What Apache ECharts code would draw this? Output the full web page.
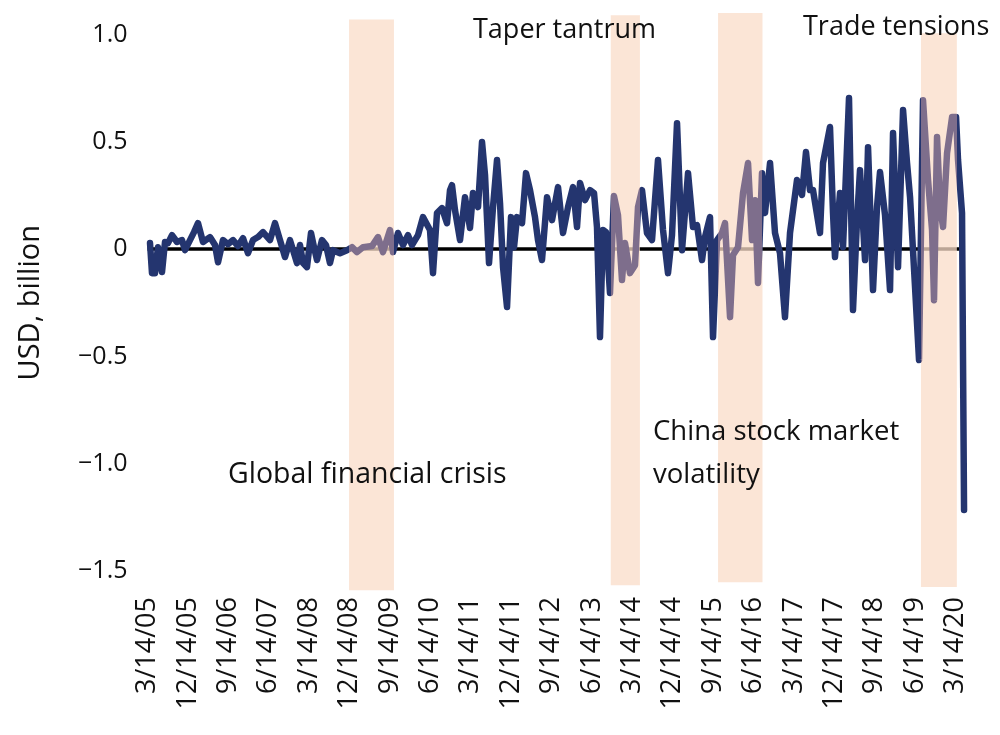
<!DOCTYPE html>
<html>
<head>
<meta charset="utf-8">
<script src="https://cdn.jsdelivr.net/npm/echarts@6/dist/echarts.min.js"></script>
<style>
  html, body { margin: 0; padding: 0; background: #fff; }
  #main { width: 1000px; height: 735px; }
</style>
</head>
<body>
<div id="main"></div>
<script>
// x = months since 3/14/05
const months = [
  0.56, 1.0, 1.67, 2.34, 3.23, 3.9, 4.57, 5.46, 6.57, 7.69, 8.35, 9.47, 10.36, 11.25, 12.36, 13.92,
  15.04, 15.71, 16.82, 17.93, 19.05, 20.16, 21.27, 22.39, 23.5, 24.61, 25.73, 27.29, 28.4, 29.52,
  30.63, 31.74, 33.3, 33.97, 34.64, 35.53, 36.42, 37.09, 37.76, 38.87, 39.76, 40.65, 41.32, 42.88,
  44.44, 45.55, 46.67, 48.0, 50.01, 51.34, 52.46, 54.02, 54.69, 55.8, 56.92, 58.03, 58.92, 60.26,
  61.37, 62.93, 63.6, 64.49, 65.6, 66.72, 67.39, 67.83, 68.5, 69.62, 70.73, 71.84, 72.51, 73.63,
  74.52, 75.19, 76.08, 76.97, 77.86, 78.53, 79.2, 80.09, 80.98, 81.65, 82.32, 83.43, 84.32, 85.21,
  86.32, 86.99, 87.88, 89.0, 90.11, 91.45, 92.56, 93.68, 94.79, 95.68, 96.35, 97.46, 98.58, 99.47,
  100.13, 100.8, 101.47, 102.14, 103.03, 103.92, 104.81, 105.7, 106.37, 107.48, 108.6, 109.27,
  110.16, 111.27, 112.39, 113.72, 114.84, 115.95, 116.84, 117.96, 119.07, 120.41, 121.52, 122.41,
  123.53, 124.19, 125.31, 125.98, 126.87, 127.98, 128.65, 129.77, 130.43, 131.55, 132.66, 133.78,
  134.67, 135.34, 136.0, 136.89, 137.56, 138.68, 139.79, 140.9, 142.01, 143.13, 144.69, 145.8,
  146.69, 147.58, 148.25, 149.81, 150.48, 152.04, 152.71, 153.15, 154.27, 154.94, 156.27, 157.16,
  158.06, 158.72, 159.84, 160.51, 161.62, 162.51, 163.18, 164.3, 165.41, 166.08, 167.19, 168.31,
  169.2, 169.87, 170.98, 171.87, 172.76, 173.88, 174.77, 175.21, 175.88, 176.55, 177.22, 178.11,
  179.23, 180.12, 180.56, 181.45, 181.9
];
const flows = [
  0.028, -0.112, -0.112, 0.009, -0.107, 0.033, 0.028, 0.065, 0.033, 0.042, -0.005, 0.042, 0.079, 0.121, 0.033, 0.056,
  0.019, -0.061, 0.042, 0.023, 0.042, 0.014, 0.051, -0.019, 0.042, 0.056, 0.079, 0.042, 0.121, 0.042,
  -0.037, 0.042, -0.065, 0.019, -0.065, -0.084, 0.075, 0.009, -0.051, 0.042, 0.019, -0.065, -0.005, -0.019,
  -0.005, 0.009, -0.014, 0.009, 0.014, 0.056, -0.014, 0.089, -0.014, 0.075, 0.019, 0.065, 0.019, 0.065,
  0.149, 0.089, -0.112, 0.168, 0.191, 0.121, 0.275, 0.298, 0.182, 0.042, 0.242, 0.098, 0.261, 0.196,
  0.499, 0.345, -0.065, 0.196, 0.415, 0.214, -0.084, -0.27, 0.149, 0.009, 0.149, 0.121, 0.354, 0.275,
  0.149, 0.042, -0.051, 0.242, 0.135, 0.289, 0.075, 0.196, 0.289, 0.103, 0.308, 0.228, 0.275, 0.261,
  0.103, -0.41, 0.089, 0.079, -0.205, 0.247, 0.158, -0.144, 0.028, -0.112, -0.075, 0.196,
  0.275, 0.075, 0.042, 0.415, 0.089, -0.112, 0.065, 0.587, -0.005, 0.354, 0.103, 0.112,
  -0.051, 0.056, 0.149, -0.41, 0.042, 0.075, 0.121, -0.317, -0.028, 0.009, 0.261, 0.401,
  0.042, 0.228, -0.158, 0.354, 0.168, 0.401, 0.075, -0.019, -0.317, 0.075, 0.322, 0.252,
  0.452, 0.275, 0.275, 0.075, 0.401, 0.569, 0.168, -0.037, 0.261, 0.009, 0.704, -0.284,
  0.135, 0.368, -0.051, 0.475, -0.191, 0.196, 0.359, 0.158, -0.191, 0.541, -0.084, 0.648,
  0.401, 0.242, -0.177, -0.517, 0.694, 0.322, 0.089, -0.238, 0.522, 0.196, 0.103, 0.447,
  0.615, 0.615, 0.415, 0.168, -1.216
];

// shaded episodes: start month, end month, top, bottom
const episodes = [
  [44.9, 54.9, 1.07, -1.59],
  [103.2, 109.7, 1.09, -1.566],
  [127.1, 137.0, 1.1, -1.552],
  [172.3, 180.3, 1.006, -1.575]
];

const xTickLabels = [
  '3/14/05', '12/14/05', '9/14/06', '6/14/07', '3/14/08', '12/14/08', '9/14/09',
  '6/14/10', '3/14/11', '12/14/11', '9/14/12', '6/14/13', '3/14/14', '12/14/14',
  '9/14/15', '6/14/16', '3/14/17', '12/14/17', '9/14/18', '6/14/19', '3/14/20'
];
const yTickLabels = ['\u22121.5', '\u22121.0', '\u22120.5', '0', '0.5', '1.0'];

const navy = '#24356f';
const mauve = '#7e6e8c';
const font = 'Open Sans';
const ink = '#111';

const chartDom = document.getElementById('main');
const myChart = echarts.init(chartDom);

const pieces = [];
let prev = -Infinity;
episodes.forEach((e) => {
  pieces.push({ gt: prev, lt: e[0], color: navy });
  pieces.push({ gte: e[0], lte: e[1], color: mauve });
  prev = e[1];
});
pieces.push({ gt: prev, lt: Infinity, color: navy });

const note = (text, left, top, size) => ({
  type: 'text',
  left: left,
  top: top,
  z: 50,
  style: { text: text, font: size + 'px "Open Sans"', lineHeight: 43, fill: ink }
});

const option = {
  animation: false,
  backgroundColor: '#fff',
  grid: { left: 147.5, right: 35.5, top: 34.5, bottom: 164 },
  xAxis: {
    type: 'value',
    min: 0,
    max: 182,
    interval: 9,
    axisLine: { show: false },
    axisTick: { show: false },
    splitLine: { show: false },
    axisLabel: {
      rotate: 90,
      margin: 26,
      fontFamily: font,
      fontSize: 27,
      color: ink,
      formatter: (v) => (v % 9 === 0 ? xTickLabels[v / 9] : '')
    }
  },
  yAxis: {
    type: 'value',
    min: -1.5,
    max: 1.0,
    interval: 0.5,
    name: 'USD, billion',
    nameLocation: 'middle',
    nameGap: 102,
    nameTextStyle: { fontFamily: font, fontSize: 29, color: ink },
    axisLine: { show: false },
    axisTick: { show: false },
    splitLine: {
      show: true,
      lineStyle: {
        width: 3.5,
        color: ['rgba(0,0,0,0)', 'rgba(0,0,0,0)', 'rgba(0,0,0,0)', '#000', 'rgba(0,0,0,0)', 'rgba(0,0,0,0)']
      }
    },
    axisLabel: {
      margin: 20,
      fontFamily: font,
      fontSize: 25,
      color: ink,
      formatter: (v) => yTickLabels[Math.round((v + 1.5) / 0.5)]
    }
  },
  visualMap: {
    show: false,
    seriesIndex: 1,
    dimension: 0,
    pieces: pieces
  },
  graphic: [
    note('Taper tantrum', 473, 9, 27),
    note('Trade tensions', 803, 6, 27),
    note('Global financial crisis', 228, 453, 28.5),
    note('China stock market\nvolatility', 653, 411, 27.5)
  ],
  series: [
    {
      type: 'custom',
      z: 1,
      clip: false,
      silent: true,
      data: episodes,
      renderItem: (params, api) => {
        const p0 = api.coord([api.value(0), api.value(2)]);
        const p1 = api.coord([api.value(1), api.value(3)]);
        return {
          type: 'rect',
          shape: { x: p0[0], y: p0[1], width: p1[0] - p0[0], height: p1[1] - p0[1] },
          style: { fill: 'rgba(250,220,200,0.75)' }
        };
      }
    },
    {
      type: 'line',
      z: 3,
      data: months.map((m, i) => [m, flows[i]]),
      showSymbol: false,
      symbol: 'none',
      lineStyle: { width: 6.5, join: 'round', cap: 'round' }
    }
  ]
};

option && myChart.setOption(option);
</script>
</body>
</html>
